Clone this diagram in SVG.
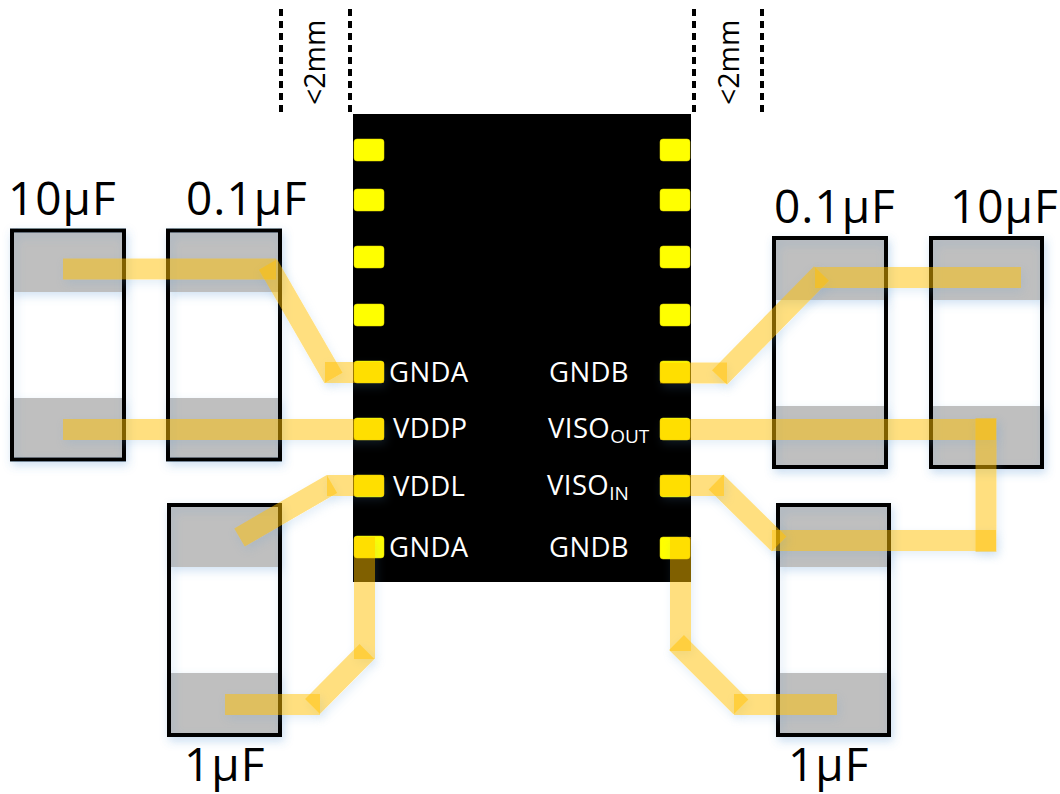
<svg xmlns="http://www.w3.org/2000/svg" width="1060" height="794" viewBox="0 0 1060 794">
<style>
text{font-family:"Open Sans","Liberation Sans",sans-serif}
.val{font-size:46px;fill:#000;letter-spacing:1px}
.pin{font-size:27.500px;fill:#fff;letter-spacing:.4px}
.sub{font-size:19px;letter-spacing:0}
.dim{font-size:28.500px;fill:#000}
.band{fill:#bfbfbf;filter:url(#glow)}
.body{fill:none;stroke:#000;stroke-width:4;filter:url(#glow)}
.pad{fill:#ff0;stroke:#e6d800;stroke-width:.5}
.dash{stroke:#000;stroke-width:4;stroke-dasharray:7 5;fill:none}
#connectors line{stroke:#ffc000;stroke-opacity:.5;stroke-width:21;fill:none;filter:url(#wireglow)}
</style>
<defs>
<filter id="glow" filterUnits="userSpaceOnUse" x="0" y="0" width="1060" height="794">
<feDropShadow dx="2" dy="4" stdDeviation="5" flood-color="#5b9bd5" flood-opacity=".28"/>
</filter>
<filter id="wireglow" filterUnits="userSpaceOnUse" x="0" y="0" width="1060" height="794" color-interpolation-filters="sRGB">
<feComponentTransfer in="SourceAlpha" result="solid"><feFuncA type="linear" slope="8"/></feComponentTransfer>
<feGaussianBlur in="solid" stdDeviation="5" result="blur"/>
<feOffset in="blur" dx="2" dy="4" result="off"/>
<feFlood flood-color="#5b9bd5" flood-opacity=".16"/>
<feComposite in2="off" operator="in" result="shadow"/>
<feComposite in="shadow" in2="solid" operator="out" result="outer"/>
<feMerge><feMergeNode in="outer"/><feMergeNode in="SourceGraphic"/></feMerge>
</filter>
</defs>
<rect width="1060" height="794" fill="#fff"/>
<g id="dim-left">
<line class="dash" x1="281" y1="9" x2="281" y2="114"/>
<line class="dash" x1="350" y1="9" x2="350" y2="114"/>
<text class="dim" transform="translate(325 105) rotate(-90)">&lt;2mm</text>
</g>
<g id="dim-right">
<line class="dash" x1="694" y1="9" x2="694" y2="114"/>
<line class="dash" x1="762" y1="9" x2="762" y2="114"/>
<text class="dim" transform="translate(739 105) rotate(-90)">&lt;2mm</text>
</g>
<g id="chip">
<rect x="353" y="114" width="338" height="468" fill="#000"/>
<rect class="pad" x="354" y="139" width="30" height="22" rx="3"/>
<rect class="pad" x="354" y="189" width="30" height="22" rx="3"/>
<rect class="pad" x="354" y="246" width="30" height="22" rx="3"/>
<rect class="pad" x="354" y="304" width="30" height="22" rx="3"/>
<rect class="pad" x="354" y="361" width="30" height="22" rx="3"/>
<rect class="pad" x="354" y="418" width="30" height="22" rx="3"/>
<rect class="pad" x="354" y="475" width="30" height="22" rx="3"/>
<rect class="pad" x="354" y="536" width="30" height="22" rx="3"/>
<rect class="pad" x="660" y="139" width="30" height="22" rx="3"/>
<rect class="pad" x="660" y="189" width="30" height="22" rx="3"/>
<rect class="pad" x="660" y="246" width="30" height="22" rx="3"/>
<rect class="pad" x="660" y="304" width="30" height="22" rx="3"/>
<rect class="pad" x="660" y="361" width="30" height="22" rx="3"/>
<rect class="pad" x="660" y="418" width="30" height="22" rx="3"/>
<rect class="pad" x="660" y="475" width="30" height="22" rx="3"/>
<rect class="pad" x="660" y="537" width="30" height="22" rx="3"/>
<text class="pin" x="389" y="382">GNDA</text>
<text class="pin" x="393" y="438">VDDP</text>
<text class="pin" x="393" y="496">VDDL</text>
<text class="pin" x="389" y="557">GNDA</text>
<text class="pin" x="549" y="382">GNDB</text>
<text class="pin" x="548" y="438">VISO<tspan class="sub" dy="5">OUT</tspan></text>
<text class="pin" x="547" y="495">VISO<tspan class="sub" dy="5">IN</tspan></text>
<text class="pin" x="549" y="557">GNDB</text>
</g>
<g id="cap-10u-left">
<rect class="band" x="12" y="231" width="112" height="61"/>
<rect class="band" x="12" y="398" width="112" height="61"/>
<rect class="body" x="12" y="230.500" width="112" height="229"/>
<text class="val" x="8" y="215">10μF</text>
</g>
<g id="cap-01u-left">
<rect class="band" x="168" y="231" width="112" height="61"/>
<rect class="band" x="168" y="398" width="112" height="61"/>
<rect class="body" x="168" y="230.500" width="112" height="229"/>
<text class="val" x="186" y="215">0.1μF</text>
</g>
<g id="cap-1u-left">
<rect class="band" x="169" y="505" width="111" height="62"/>
<rect class="band" x="169" y="673" width="111" height="62"/>
<rect class="body" x="169" y="505" width="111" height="230"/>
<text class="val" x="184" y="781">1μF</text>
</g>
<g id="cap-01u-right">
<rect class="band" x="774" y="238" width="112" height="62"/>
<rect class="band" x="774" y="406" width="112" height="61"/>
<rect class="body" x="774" y="238" width="112" height="229"/>
<text class="val" x="774" y="223">0.1μF</text>
</g>
<g id="cap-10u-right">
<rect class="band" x="931" y="238" width="111" height="62"/>
<rect class="band" x="931" y="406" width="111" height="61"/>
<rect class="body" x="931" y="238" width="111" height="229"/>
<text class="val" x="950" y="223">10μF</text>
</g>
<g id="cap-1u-right">
<rect class="band" x="778" y="505" width="111" height="62"/>
<rect class="band" x="778" y="673" width="111" height="62"/>
<rect class="body" x="778" y="505" width="111" height="230"/>
<text class="val" x="788" y="781">1μF</text>
</g>
<g id="connectors">
<line x1="63" y1="269" x2="276" y2="269"/>
<line x1="268" y1="264.500" x2="333.500" y2="378"/>
<line x1="325" y1="372.500" x2="384" y2="372.500"/>
<line x1="63" y1="429.500" x2="384" y2="429.500"/>
<line x1="239.500" y1="537.500" x2="332" y2="484"/>
<line x1="327" y1="485.500" x2="384" y2="485.500"/>
<line x1="364.500" y1="537" x2="364.500" y2="659"/>
<line x1="367" y1="651.500" x2="312.500" y2="706.500"/>
<line x1="225" y1="704.500" x2="320" y2="704.500"/>
<line x1="660" y1="373" x2="727" y2="373"/>
<line x1="719.500" y1="377.500" x2="821.500" y2="273.500"/>
<line x1="815" y1="277.500" x2="1021" y2="277.500"/>
<line x1="660" y1="429.500" x2="996" y2="429.500"/>
<line x1="986" y1="418" x2="986" y2="552"/>
<line x1="772" y1="540.500" x2="996" y2="540.500"/>
<line x1="716" y1="482" x2="779" y2="544"/>
<line x1="660" y1="485.500" x2="724" y2="485.500"/>
<line x1="680.500" y1="537" x2="680.500" y2="651"/>
<line x1="676.500" y1="642.500" x2="741" y2="707"/>
<line x1="734" y1="704.500" x2="837" y2="704.500"/>
</g>
</svg>
